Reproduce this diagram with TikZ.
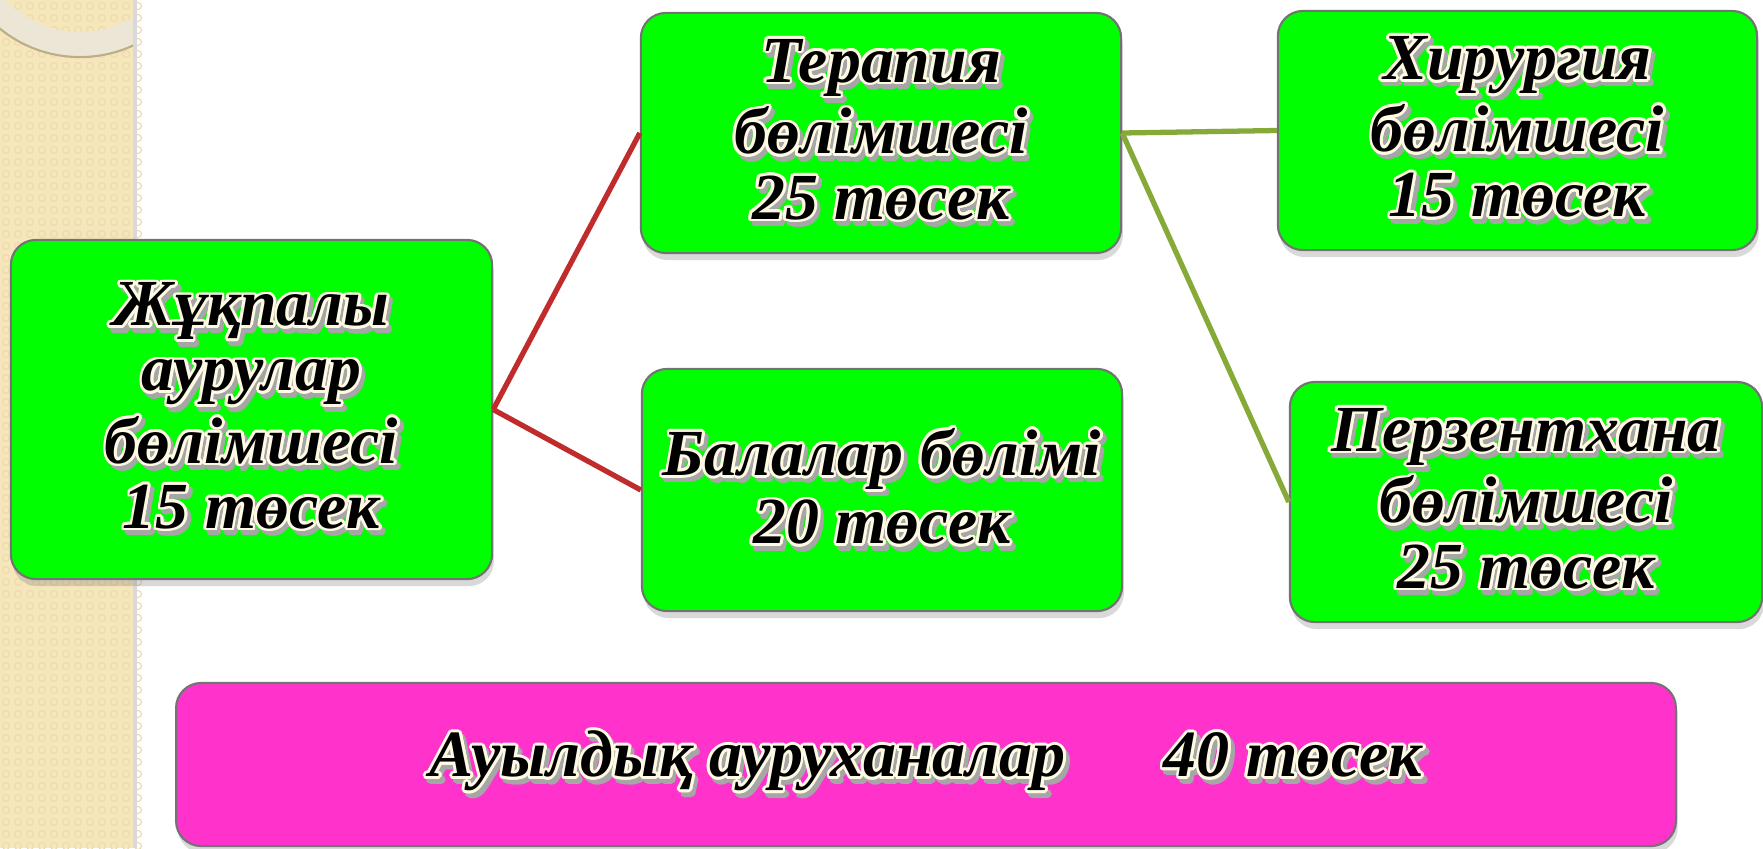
\documentclass[tikz,border=0pt]{standalone}
\usepackage{fontspec}
\setmainfont{Liberation Serif}
\usepackage[copies]{contour}
\usetikzlibrary{shadows}
\definecolor{boxgreen}{RGB}{0,255,0}
\definecolor{boxpink}{RGB}{255,51,204}
\definecolor{linkred}{RGB}{192,44,44}
\definecolor{linkolive}{RGB}{134,170,56}
\definecolor{stripbg}{RGB}{246,230,188}
\definecolor{stripdot}{RGB}{236,218,170}
\definecolor{ringcol}{RGB}{236,230,214}
\definecolor{cream}{RGB}{255,250,228}
\contourlength{0.8pt}
\newcommand{\glow}[1]{\makebox[0pt][l]{\hspace{1pt}\raisebox{-1.3pt}{\contour{black!35}{\color{black!35}#1}}}\contour{cream}{#1}}
\tikzset{ward/.style={draw=black!55, fill=boxgreen, rounded corners=0.25cm, line width=0.6pt,
    align=center, font=\fontsize{18.7}{18.5}\selectfont\bfseries\itshape,
    drop shadow={shadow xshift=0.5pt, shadow yshift=-2pt, opacity=0.3}},
  link/.style={line width=1.5pt}}

\begin{document}
\begin{tikzpicture}[x=0.01cm, y=-0.01cm]
  \useasboundingbox (0,0) rectangle (1763,848);
  \fill[stripbg] (0,0) rectangle (135,848);
  \foreach \i in {0,...,11} {
    \foreach \j in {0,...,70} {
      \draw[stripdot, line width=0.3pt] (\i*12+6, \j*12+6) circle (0.035cm);
    }
  }
  \begin{scope}
    \clip (0,0) rectangle (135,848);
    \fill[ringcol, even odd rule] (80,-70) circle (1.27cm) (80,-70) circle (1.02cm);
    \draw[stripdot!80!black, line width=0.6pt] (80,-70) circle (1.27cm);
  \end{scope}
  \draw[black!15, line width=1pt] (135,0) -- (135,848);

  \node at (251.5,409.5) [ward, minimum width=4.81cm, minimum height=3.39cm] (zhuk)
    {\glow{Жұқпалы}\\\glow{аурулар}\\\glow{бөлімшесі}\\\glow{15 төсек}};
  \node at (881,133) [ward, minimum width=4.8cm, minimum height=2.4cm] (terap)
    {\glow{Терапия}\\\glow{бөлімшесі}\\\glow{25 төсек}};
  \node at (882,490) [ward, minimum width=4.8cm, minimum height=2.42cm] (bala)
    {\glow{Балалар бөлімі}\\\glow{20 төсек}};
  \node at (1517.5,130.5) [ward, minimum width=4.79cm, minimum height=2.39cm] (hirur)
    {\glow{Хирургия}\\\glow{бөлімшесі}\\\glow{15 төсек}};
  \node at (1526,502) [ward, minimum width=4.72cm, minimum height=2.4cm] (perz)
    {\glow{Перзентхана}\\\glow{бөлімшесі}\\\glow{25 төсек}};
  \node at (926,764.5) [ward, fill=boxpink, minimum width=14.99cm, minimum height=1.63cm,
    font=\fontsize{18.8}{19}\selectfont\bfseries\itshape] (auyl)
    {\glow{Ауылдық ауруханалар\hspace{0.98cm}40 төсек}};

  \foreach \to in {terap, bala}
    \draw[link, linkred] (zhuk.east) -- (\to.west);
  \foreach \to in {hirur, perz}
    \draw[link, linkolive] (terap.east) -- (\to.west);
\end{tikzpicture}
\end{document}
